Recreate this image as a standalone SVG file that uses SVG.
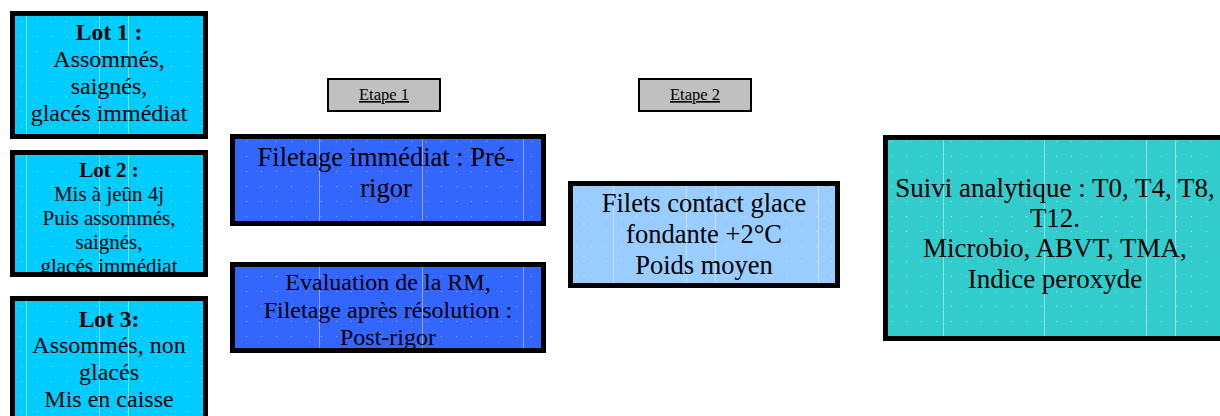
<svg xmlns="http://www.w3.org/2000/svg" width="1220" height="416" viewBox="0 0 1220 416">
<style>
.box{stroke:#000;stroke-width:5}
.lot{fill:#00ccff}
.blue{fill:#3366ff}
.light{fill:#99ccff}
.teal{fill:#33cccc}
.step{fill:#c0c0c0;stroke:#000;stroke-width:2}
text{font-family:"Liberation Serif","Times New Roman",serif;fill:#000;text-anchor:middle}
.b{font-weight:bold}
.u{text-decoration:underline;font-size:16.5px}
.tex{fill:url(#dots)}
.vl{stroke:#fff;stroke-opacity:0.45;stroke-width:1}
</style>
<defs>
<pattern id="dots" x="0" y="0" width="15" height="15" patternUnits="userSpaceOnUse">
<rect x="6" y="6" width="1" height="1" fill="#fff" fill-opacity="0.45"/>
</pattern>
<clipPath id="c2"><rect x="15" y="155" width="190" height="117"/></clipPath>
<clipPath id="c5"><rect x="235" y="267" width="306" height="81"/></clipPath>
</defs>
<rect width="1220" height="416" fill="#fff"/>

<g id="lot1">
<rect class="box lot" x="12.5" y="13.5" width="193" height="123"/>
<rect class="tex" x="15" y="16" width="188" height="118"/>
<path class="vl" d="M26.5 16V134M99.5 16V134M128.5 16V134"/>
<text x="109" y="40" font-size="23.5" class="b">Lot 1 :</text>
<text x="109" y="67" font-size="24">Assommés,</text>
<text x="109" y="94" font-size="24">saignés,</text>
<text x="109" y="121" font-size="24">glacés immédiat</text>
</g>

<g id="lot2">
<rect class="box lot" x="12.5" y="152.5" width="193" height="122"/>
<rect class="tex" x="15" y="155" width="188" height="117"/>
<path class="vl" d="M26.5 155V272M99.5 155V272M128.5 155V272"/>
<g clip-path="url(#c2)" font-size="21">
<text x="109" y="177" class="b">Lot 2 :</text>
<text x="109" y="201">Mis à jeûn 4j</text>
<text x="109" y="225">Puis assommés,</text>
<text x="109" y="249">saignés,</text>
<text x="109" y="273">glacés immédiat</text>
</g>
</g>

<g id="lot3">
<rect class="box lot" x="12.5" y="298.5" width="193" height="140"/>
<rect class="tex" x="15" y="301" width="188" height="115"/>
<path class="vl" d="M26.5 301V416M99.5 301V416M128.5 301V416"/>
<text x="109" y="327" font-size="23.5" class="b">Lot 3:</text>
<text x="109" y="353" font-size="24">Assommés, non</text>
<text x="109" y="380" font-size="24">glacés</text>
<text x="109" y="407" font-size="24">Mis en caisse</text>
</g>

<g id="etape1">
<rect class="step" x="328" y="79" width="112" height="32"/>
<text x="384" y="100" class="u">Etape 1</text>
</g>

<g id="etape2">
<rect class="step" x="639" y="79" width="112" height="32"/>
<text x="695" y="100" class="u">Etape 2</text>
</g>

<g id="filetage">
<rect class="box blue" x="232.5" y="136.5" width="311" height="87"/>
<rect class="tex" x="235" y="139" width="306" height="82"/>
<path class="vl" d="M319.5 139V221M422.5 139V221M523.5 139V221"/>
<text x="386" y="166" font-size="26.5">Filetage immédiat : Pré-</text>
<text x="386" y="197" font-size="26.5">rigor</text>
</g>

<g id="evaluation">
<rect class="box blue" x="232.5" y="264.5" width="311" height="86"/>
<rect class="tex" x="235" y="267" width="306" height="81"/>
<path class="vl" d="M319.5 267V348M422.5 267V348M523.5 267V348"/>
<g clip-path="url(#c5)" font-size="24">
<text x="388" y="290">Evaluation de la RM,</text>
<text x="388" y="318">Filetage après résolution :</text>
<text x="388" y="345">Post-rigor</text>
</g>
</g>

<g id="filets">
<rect class="box light" x="570.5" y="183.5" width="267" height="102"/>
<rect class="tex" x="573" y="186" width="262" height="97"/>
<path class="vl" d="M613.5 186V283M686.5 186V283M715.5 186V283M818.5 186V283"/>
<text x="704" y="212" font-size="26.5">Filets contact glace</text>
<text x="704" y="243" font-size="26.5">fondante +2°C</text>
<text x="704" y="274" font-size="26.5">Poids moyen</text>
</g>

<g id="suivi">
<rect class="box teal" x="885.5" y="137.5" width="340" height="201"/>
<rect class="tex" x="888" y="140" width="332" height="196"/>
<path class="vl" d="M943.5 140V336M1044.5 140V336M1146.5 140V336M1175.5 140V336"/>
<text x="1055" y="197" font-size="27">Suivi analytique : T0, T4, T8,</text>
<text x="1055" y="227" font-size="27">T12.</text>
<text x="1055" y="257" font-size="27">Microbio, ABVT, TMA,</text>
<text x="1055" y="288" font-size="27">Indice peroxyde</text>
</g>

<g id="connectors"></g>
</svg>
